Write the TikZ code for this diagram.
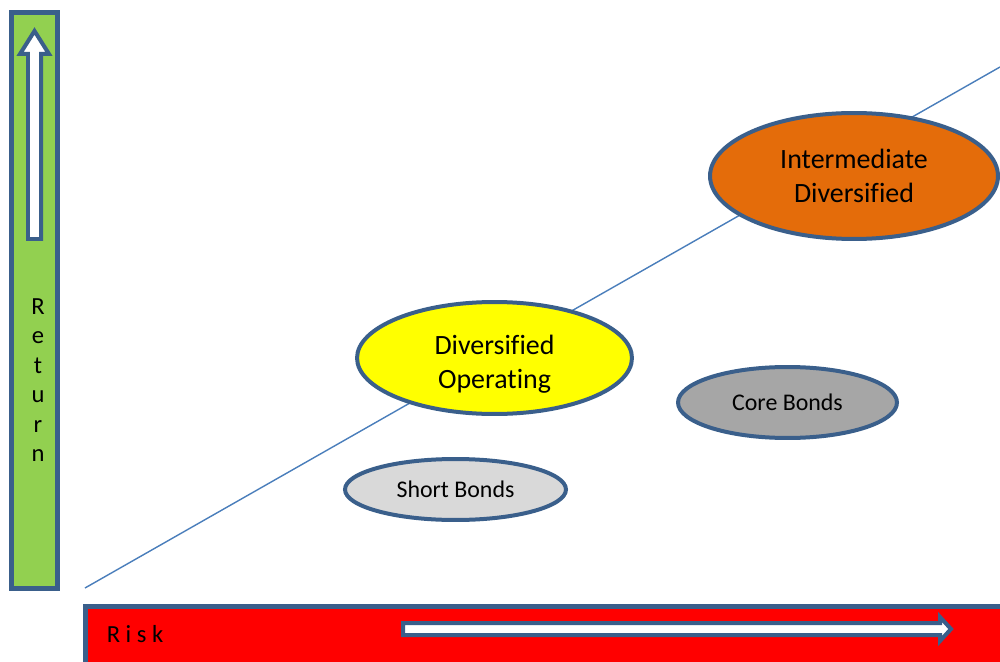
\documentclass[tikz,border=0pt]{standalone}
\usepackage{fontspec}
\setmainfont{Carlito}[Ligatures=NoCommon]
\usetikzlibrary{shapes.geometric}
\definecolor{rrblue}{HTML}{3A5F8B}
\definecolor{rrline}{HTML}{4A7EBB}
\definecolor{rrgreen}{HTML}{92D050}
\definecolor{rrred}{HTML}{FF0000}
\definecolor{rrorange}{HTML}{E46C0A}
\definecolor{rryellow}{HTML}{FFFF00}
\definecolor{rrgrey}{HTML}{A6A6A6}
\definecolor{rrlight}{HTML}{D9D9D9}

\begin{document}
\begin{tikzpicture}[x=0.02cm, y=-0.02cm, line join=miter,
  bar/.style={draw=rrblue, line width=5*0.569pt},
  blockarrow/.style={draw=rrblue, fill=white, line width=4*0.569pt},
  fund/.style={ellipse, draw=rrblue, line width=4*0.569pt, inner sep=0pt, align=center},
  bigtxt/.style={font=\fontsize{15.9}{19.3}\selectfont, align=center},
  smalltxt/.style={font=\fontsize{13.6}{16}\selectfont}]
  \clip (0,0) rectangle (1000,662);
  % axes
  \draw[bar, fill=rrgreen] (11.5,12.5) rectangle (57.5,588);
  \draw[bar, fill=rrred] (85.5,606.5) rectangle (1010,680);
  \draw[blockarrow] (28,239) -- (28,54) -- (20,54) -- (34.5,31) -- (49,54) -- (41,54) -- (41,239) -- cycle;
  \draw[blockarrow] (403,623) -- (940,623) -- (940,617) -- (951,629) -- (940,641) -- (940,635) -- (403,635) -- cycle;
  \node[font=\fontsize{14}{16.8}\selectfont, align=center] (ret) at (38,380) {R\\e\\t\\u\\r\\n};
  \node[font=\fontsize{14}{16}\selectfont] (risk) at (135,634) {R i s k};
  % trend
  \coordinate (lo) at (85,588);
  \coordinate (hi) at (1000,67);
  \draw[rrline, line width=0.8pt] (lo) -- (hi);
  % funds
  \node[fund, fill=rrorange, bigtxt, minimum width=5.76cm, minimum height=2.52cm] (inter) at (854,176) {Intermediate\\Diversified};
  \node[fund, fill=rryellow, minimum width=5.5cm, minimum height=2.24cm] (divop) at (494.5,358) {};
  \node[bigtxt] (divoptxt) at (494.5,364) {Diversified\\Operating};
  \node[fund, fill=rrgrey, smalltxt, minimum width=4.38cm, minimum height=1.42cm] (core) at (787.5,402.5) {Core Bonds};
  \node[fund, fill=rrlight, smalltxt, minimum width=4.42cm, minimum height=1.22cm] (short) at (455.5,489.5) {Short Bonds};
\end{tikzpicture}
\end{document}
